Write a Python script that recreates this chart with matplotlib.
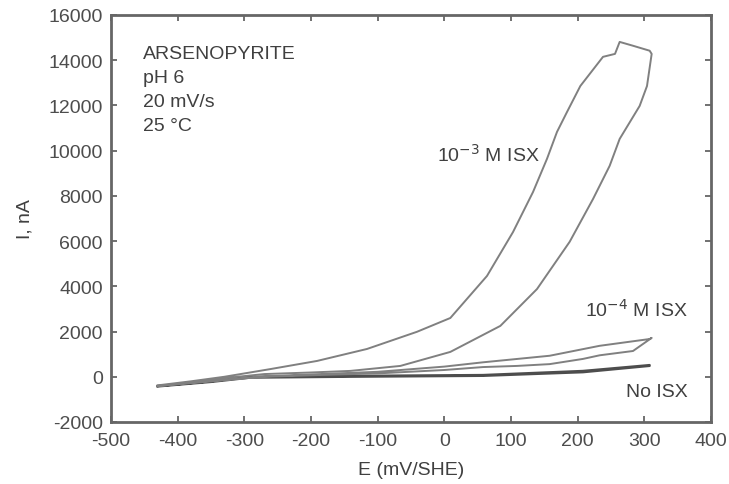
import matplotlib
matplotlib.use('Agg')
import matplotlib.pyplot as plt

plt.rcParams['font.family'] = ['Liberation Sans', 'DejaVu Sans']
plt.rcParams['axes.unicode_minus'] = False

# 10^-3 M ISX loop (forward then reverse scan)
isx3_E = [-430, -380, -330, -270, -200, -141, -66, 9, 84, 139, 188, 223, 248, 263, 293, 304, 311,
          308, 283, 263, 256, 238, 204, 184, 169, 154, 133, 103, 64, 9, -41, -116, -191, -261, -330, -380, -430]
isx3_I = [-420, -250, -60, 120, 190, 260, 480, 1100, 2250, 3880, 5970, 7860, 9330, 10520, 11980, 12860, 14280,
          14420, 14640, 14810, 14280, 14150, 12860, 11710, 10830, 9640, 8170, 6400, 4460, 2600, 1990, 1230, 700, 340, 0, -200, -380]

# 10^-4 M ISX loop
isx4_E = [-430, -350, -270, -186, -100, 0, 58, 109, 158, 208, 233, 283, 311,
          308, 233, 158, 58, 0, -100, -186, -270, -350, -430]
isx4_I = [-400, -180, 0, 80, 150, 300, 430, 480, 560, 790, 950, 1140, 1720,
          1670, 1370, 930, 640, 450, 220, 120, 20, -200, -400]

# No ISX loop
noisx_E = [-430, -350, -291, -141, 58, 208, 308,
           308, 208, 58, -141, -291, -350, -430]
noisx_I = [-410, -200, 0, 40, 80, 260, 520,
           480, 200, 40, 0, -40, -230, -430]

x_ticks = list(range(-500, 401, 100))
y_ticks = list(range(-2000, 16001, 2000))
info_lines = ['ARSENOPYRITE', 'pH 6', '20 mV/s', '25 \u00b0C']

fig = plt.figure(figsize=(7.29, 4.85), dpi=100)
ax = fig.add_axes([111 / 729, 62 / 485, 600 / 729, 407 / 485])

line_color = '0.5'
ax.plot(noisx_E, noisx_I, color='0.3', lw=1.6)
ax.plot(isx4_E, isx4_I, color=line_color, lw=1.4)
ax.plot(isx3_E, isx3_I, color=line_color, lw=1.4)

ax.set_xlim(-500, 400)
ax.set_ylim(-2000, 16000)
ax.set_xticks(x_ticks)
ax.set_yticks(y_ticks)
ax.tick_params(direction='in', length=4, width=1.2, color='0.35',
               top=True, right=True, labelsize=14, labelcolor='0.3')
ax.tick_params(axis='x', pad=7)
ax.tick_params(axis='y', pad=6)
for sp in ax.spines.values():
    sp.set_color('0.4')
    sp.set_linewidth(2)

ax.set_xlabel('E (mV/SHE)', fontsize=14, color='0.25')
ax.set_ylabel('I, nA', fontsize=14, color='0.25')
ax.xaxis.set_label_coords(0.5, -0.097)
ax.yaxis.set_label_coords(-(111 - 34) / 600, 0.5)

for k, txt in enumerate(info_lines):
    ax.text(-452, 14280 - k * 1050, txt, fontsize=14, color='0.25', va='center')

ax.text(-11, 9860, r'10$^{-3}$ M ISX', fontsize=14, color='0.25', va='center')
ax.text(211, 3000, r'10$^{-4}$ M ISX', fontsize=14, color='0.25', va='center')
ax.text(272, -630, 'No ISX', fontsize=14, color='0.25', va='center')

fig.savefig('out.png', dpi=100)
